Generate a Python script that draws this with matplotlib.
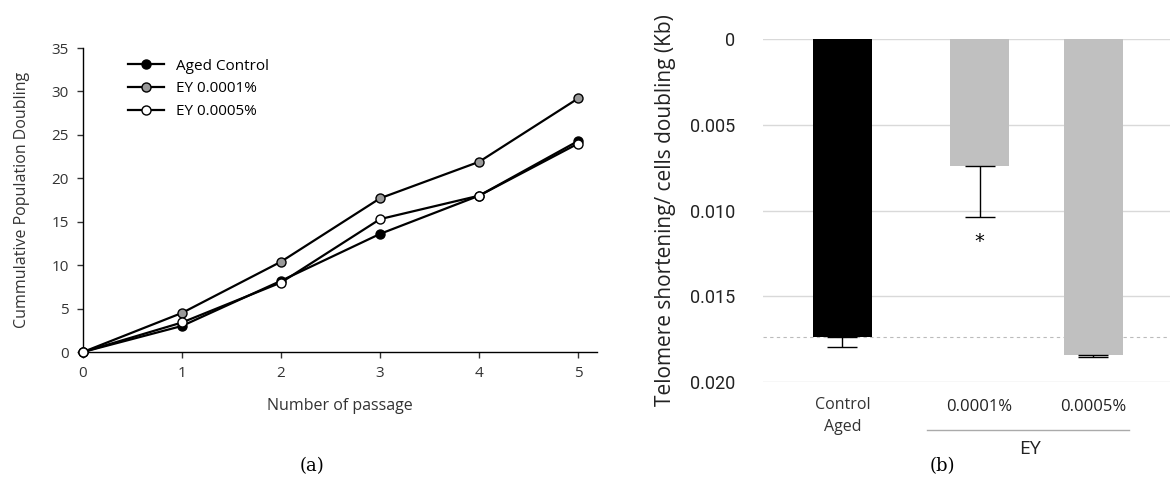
import matplotlib
matplotlib.use("Agg")
from matplotlib import pyplot as plt
from matplotlib.lines import Line2D

# panel (a) data
passage = [0, 1, 2, 3, 4, 5]
aged_control = [0, 3.0, 8.2, 13.6, 18.0, 24.3]
ey_0001 = [0, 4.5, 10.4, 17.7, 21.9, 29.2]
ey_0005 = [0, 3.4, 8.0, 15.3, 18.0, 24.0]
series_labels = ["Aged Control", "EY 0.0001%", "EY 0.0005%"]

# panel (b) data
bar_labels = ["Control\nAged", "0.0001%", "0.0005%"]
bar_values = [0.01738, 0.0074, 0.01842]
bar_errors = [0.0006, 0.0030, 0.0001]
bar_colors = ["#000000", "#c0c0c0", "#c0c0c0"]
b_ticks = [0, 0.005, 0.010, 0.015, 0.020]
b_ticklabels = ["0", "0.005", "0.010", "0.015", "0.020"]

W, H = 1170, 480
fig = plt.figure(figsize=(W / 100, H / 100), dpi=100)


def px_axes(x0, y0, x1, y1):
    return fig.add_axes([x0 / W, 1 - y1 / H, (x1 - x0) / W, (y1 - y0) / H])


# ---- panel (a)
ax = px_axes(83, 48, 597, 352)
fa = "Open Sans"
fills = ["#000000", "#999999", "#ffffff"]
for ys, fc, lab in zip([aged_control, ey_0001, ey_0005], fills, series_labels):
    ax.plot(passage, ys, color="black", lw=1.6, marker="o", ms=6.5,
            mfc=fc, mec="black", mew=1.0, label=lab, clip_on=False, zorder=3)
ax.set_xlim(0, 5.19)
ax.set_ylim(0, 35)
ax.set_xticks(passage)
ax.set_yticks(range(0, 36, 5))
for s in ["top", "right"]:
    ax.spines[s].set_visible(False)
for s in ["left", "bottom"]:
    ax.spines[s].set_linewidth(1.0)
ax.tick_params(length=4, width=1.0, labelsize=11, colors="#333333", pad=6)
for t in ax.get_xticklabels() + ax.get_yticklabels():
    t.set_fontfamily(fa)
ax.set_xlabel("Number of passage", fontsize=11.5, family=fa, color="#333333", labelpad=12)
ax.set_ylabel("Cummulative Population Doubling", fontsize=11.5, family=fa,
              color="#333333", labelpad=16)
leg = ax.legend(loc="upper left", bbox_to_anchor=(0.06, 1.01), frameon=False,
                prop={"family": fa, "size": 11}, handlelength=2.4,
                labelspacing=0.5, handletextpad=0.8)
fig.text(312 / W, 1 - 466 / H, "(a)", ha="center", va="center", fontsize=13,
         family="DejaVu Serif")

# ---- panel (b)
bx = px_axes(763, 39, 1170, 382)
xpos = [0, 1, 1.83]
bx.bar(xpos, bar_values, width=0.43, color=bar_colors, zorder=2)
bx.errorbar(xpos, bar_values, yerr=[[0] * 3, bar_errors], fmt="none",
            ecolor="black", elinewidth=1.0, capsize=11, capthick=1.0, zorder=3)
bx.axhline(bar_values[0], color="#bbbbbb", lw=0.8, ls=(0, (3, 3)), zorder=1)
bx.set_ylim(0.020, 0)
bx.set_xlim(-0.58, 2.39)
bx.set_yticks(b_ticks)
bx.set_yticklabels(b_ticklabels)
bx.set_xticks([])
bx.grid(axis="y", color="#d9d9d9", lw=1.0, zorder=0)
for s in bx.spines.values():
    s.set_visible(False)
bx.tick_params(axis="y", length=0, pad=20, labelsize=13, colors="#222222")
for t in bx.get_yticklabels():
    t.set_fontfamily("Roboto")
bx.set_ylabel("Telomere shortening/ cells doubling (Kb)", fontsize=15,
              family="Open Sans", color="#222222", labelpad=10)
bx.text(1, bar_values[1] + bar_errors[1] + 0.0014, "*", ha="center",
        va="center", fontsize=14, family="DejaVu Sans")
bx.text(xpos[0], 0.0209, bar_labels[0], ha="center", va="top", fontsize=11.5,
        family="Open Sans", color="#333333", linespacing=1.5)
for xp, lab in zip(xpos[1:], bar_labels[1:]):
    bx.text(xp, 0.0210, lab, ha="center", va="top", fontsize=12,
            family="Open Sans", color="#222222")
bx.add_line(Line2D([0.62, 2.09], [0.0228, 0.0228], color="#aaaaaa", lw=1.0,
                   clip_on=False))
bx.text(1.37, 0.0234, "EY", ha="center", va="top", fontsize=14,
        family="Open Sans", color="#222222")
fig.text(942 / W, 1 - 466 / H, "(b)", ha="center", va="center", fontsize=13,
         family="DejaVu Serif")

fig.savefig("out.png", dpi=100)
